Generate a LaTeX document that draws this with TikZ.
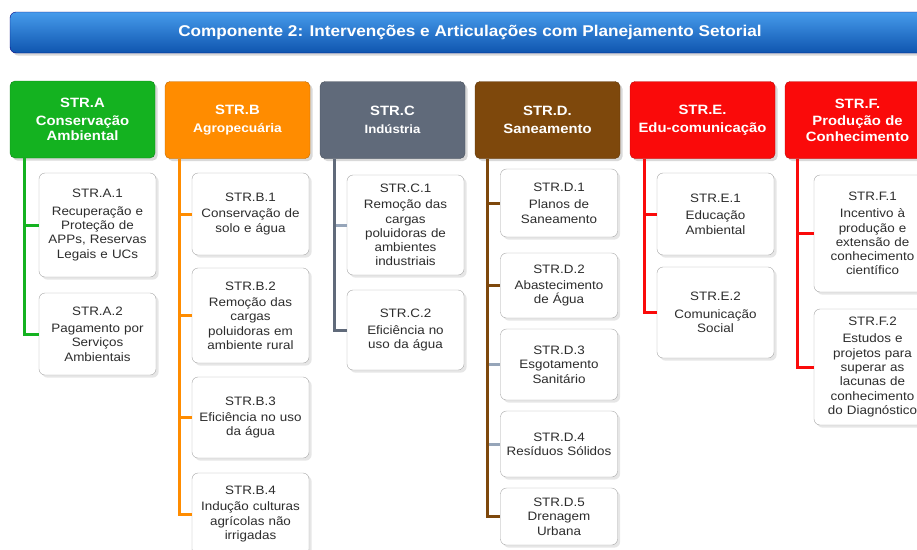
\documentclass[tikz,border=0pt]{standalone}
\usepackage{fontspec}
\setmainfont{Liberation Sans}[FakeStretch=1.1]
\usetikzlibrary{shadows}
\tikzset{>=latex}
\definecolor{strA}{RGB}{20,178,32}
\definecolor{strB}{RGB}{255,140,0}
\definecolor{strC}{RGB}{96,106,122}
\definecolor{strD}{RGB}{126,72,12}
\definecolor{strE}{RGB}{250,10,10}
\definecolor{stub}{RGB}{150,165,185}
\definecolor{txt}{RGB}{45,45,45}

\begin{document}
\begin{tikzpicture}[x=1pt,y=-1pt,
    head/.style={rounded corners=5pt, draw=#1!75!black, fill=#1, text=white,
        minimum width=145pt, minimum height=77pt, text width=141pt, inner sep=2pt,
        align=center, font=\bfseries\fontsize{13.5}{15.5}\selectfont,
        drop shadow={opacity=0.3}},
    item/.style={rounded corners=6pt, draw=gray!70, fill=white, text=txt,
        text width=116pt, inner sep=0.5pt, align=center,
        font=\fontsize{12.2}{14.3}\selectfont, drop shadow={opacity=0.2}},
    link/.style={line width=3pt, draw=#1}]
\useasboundingbox (0,0) rectangle (917,549);

% title
\node[rounded corners=6pt, draw=blue!50!black, top color={rgb,255:red,70;green,155;blue,235},
    bottom color={rgb,255:red,15;green,85;blue,175}, text=white,
    minimum width=920pt, minimum height=41pt, font=\bfseries\fontsize{15.6}{17}\selectfont,
    drop shadow={opacity=0.3}] (title) at (470,32.5)
    {Componente 2: Intervenções e Articulações com Planejamento Setorial};

% strategies
\node[head=strA] (hA) at (82.5,119.5) {STR.A\\[2pt]Conservação\\Ambiental};
\node[head=strB] (hB) at (237.5,120) {STR.B\\[2pt]{\fontsize{12.5}{15}\selectfont Agropecuária}};
\node[head=strC] (hC) at (392.5,120) {STR.C\\[2pt]{\fontsize{12}{15}\selectfont Indústria}};
\node[head=strD] (hD) at (547.5,120) {STR.D.\\[2pt]Saneamento};
\node[head=strE] (hE) at (702.5,120) {STR.E.\\[2pt]Edu-comunicação};
\node[head=strE] (hF) at (857.5,120) {STR.F.\\[2pt]Produção de\\Conhecimento};

% actions
\node[item, minimum height=104pt] (a1) at (97.5,225) {STR.A.1\\[3pt]Recuperação e\\Proteção de\\APPs, Reservas\\Legais e UCs};
\node[item, minimum height=82pt] (a2) at (97.5,334) {STR.A.2\\[3pt]Pagamento por\\Serviços\\Ambientais};

\node[item, minimum height=82pt] (b1) at (250.5,214) {STR.B.1\\[2pt]Conservação de\\solo e água};
\node[item, minimum height=95pt] (b2) at (250.5,315.5) {STR.B.2\\[2pt]Remoção das\\cargas\\poluidoras em\\ambiente rural};
\node[item, minimum height=81pt] (b3) at (250.5,417.5) {STR.B.3\\[2pt]Eficiência no uso\\da água};
\node[item, minimum height=82pt] (b4) at (250.5,514) {STR.B.4\\[2pt]Indução culturas\\agrícolas não\\irrigadas};

\node[item, minimum height=100pt] (c1) at (405.5,225) {STR.C.1\\[2pt]Remoção das\\cargas\\poluidoras de\\ambientes\\industriais};
\node[item, minimum height=80pt] (c2) at (405.5,330) {STR.C.2\\[2pt]Eficiência no\\uso da água};

\node[item, minimum height=68pt] (d1) at (559,203) {STR.D.1\\[3pt]Planos de\\Saneamento};
\node[item, minimum height=65pt] (d2) at (559,285.5) {STR.D.2\\[2pt]Abastecimento\\de Água};
\node[item, minimum height=71pt] (d3) at (559,364.5) {STR.D.3\\Esgotamento\\Sanitário};
\node[item, minimum height=66pt] (d4) at (559,444) {STR.D.4\\Resíduos Sólidos};
\node[item, minimum height=57pt] (d5) at (559,516.5) {STR.D.5\\Drenagem\\Urbana};

\node[item, minimum height=82pt] (e1) at (715.5,214) {STR.E.1\\[3pt]Educação\\Ambiental};
\node[item, minimum height=91pt] (e2) at (715.5,312.5) {STR.E.2\\[3pt]Comunicação\\Social};

\node[item, minimum height=117pt] (f1) at (872.5,233.5) {STR.F.1\\[3pt]Incentivo à\\produção e\\extensão de\\conhecimento\\científico};
\node[item, minimum height=116pt] (f2) at (872.5,367) {STR.F.2\\[3pt]Estudos e\\projetos para\\superar as\\lacunas de\\conhecimento\\do Diagnóstico};

% links
\draw[link=strA] ([xshift=15pt]hA.south west) |- (a1.west);
\draw[link=strA] ([xshift=15pt]hA.south west) |- (a2.west);
\draw[link=strB] ([xshift=15pt]hB.south west) |- (b1.west);
\draw[link=strB] ([xshift=15pt]hB.south west) |- (b2.west);
\draw[link=strB] ([xshift=15pt]hB.south west) |- (b3.west);
\draw[link=strB] ([xshift=15pt]hB.south west) |- (b4.west);
\draw[link=stub] ([xshift=15pt]hC.south west) |- (c1.west);
\draw[link=strC] ([xshift=15pt]hC.south west) |- (c2.west);
\draw[link=strD] ([xshift=13pt]hD.south west) |- (d1.west);
\draw[link=strD] ([xshift=13pt]hD.south west) |- (d2.west);
\draw[link=stub] (d3.west -| d5.west) ++(-11,0) -- (d3.west);
\draw[link=stub] (d4.west -| d5.west) ++(-11,0) -- (d4.west);
\draw[link=strD] ([xshift=13pt]hD.south west) |- (d5.west);
\draw[link=strE] ([xshift=15pt]hE.south west) |- (e1.west);
\draw[link=strE] ([xshift=15pt]hE.south west) |- (e2.west);
\draw[link=strE] ([xshift=13pt]hF.south west) |- (f1.west);
\draw[link=strE] ([xshift=13pt]hF.south west) |- (f2.west);
\end{tikzpicture}
\end{document}
